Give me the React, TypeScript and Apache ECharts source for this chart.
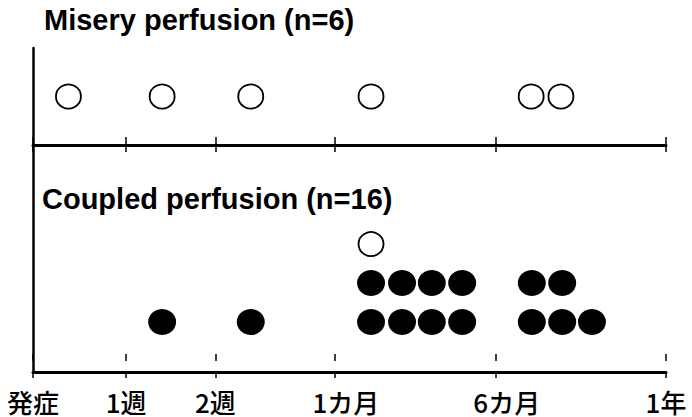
import React, { useEffect, useRef } from "react";
import * as echarts from "echarts";

// Axis units: 0 = onset, 100 = 1 year (non-linear time scale as drawn)
const tickLabels = ["発症", "1週", "2週", "1カ月", "6カ月", "1年"];
const tickPositions = [0, 14.7, 28.8, 47.7, 73.1, 100];

// Misery perfusion (n=6): open circles, one row
const miseryOpenX = [5.6, 20.4, 34.4, 53.4, 78.7, 83.4];

// Coupled perfusion (n=16)
const coupledOpenRow3X = [53.4];
const coupledFilledRow2X = [53.4, 58.3, 63.0, 67.8, 78.8, 83.6];
const coupledFilledRow1X = [20.4, 34.4, 53.4, 58.3, 63.0, 67.8, 78.8, 83.6, 88.3];

const titles = ["Misery perfusion (n=6)", "Coupled perfusion (n=16)"];

const BLACK = "#000";

function labelFor(v: number): string {
  let best = 0;
  for (let i = 0; i < tickPositions.length; i++) {
    if (Math.abs(tickPositions[i] - v) < Math.abs(tickPositions[best] - v)) best = i;
  }
  const t = tickLabels[best];
  return t.indexOf("カ") >= 0 ? "{m|" + t + "}" : "{n|" + t + "}";
}

export default function App() {
  const ref = useRef<HTMLDivElement>(null);
  useEffect(() => {
    document.body.style.margin = "0";
    if (!ref.current) return;
    const chart = echarts.init(ref.current, null, { renderer: "svg" });
    const baseX = {
      type: "value" as const,
      min: 0,
      max: 100,
      splitLine: { show: false },
    };
    const lblFont = { fontSize: 26, lineHeight: 26, fontWeight: 500, color: BLACK, fontFamily: "Noto Sans CJK JP" };
    const labelRich = {
      n: { ...lblFont },
      m: { ...lblFont, padding: [0, 0, 0, 22] },
    };
    const yBase = {
      type: "value" as const,
      axisLine: { show: true, onZero: false, lineStyle: { color: BLACK, width: 2.5 } },
      axisTick: { show: false },
      axisLabel: { show: false },
      splitLine: { show: false },
    };
    const titleStyle = { fontFamily: "Liberation Sans", fontWeight: "bold", fontSize: 29, color: BLACK };
    chart.setOption({
      animation: false,
      backgroundColor: "#fff",
      title: [
        { text: titles[0], left: 44, top: 5, padding: 0, textStyle: titleStyle },
        { text: titles[1], left: 42, top: 184, padding: 0, textStyle: titleStyle },
      ],
      grid: [
        { left: 33, top: 48, width: 633, height: 97 },
        { left: 33, top: 145, width: 633, height: 227 },
      ],
      xAxis: [
        {
          ...baseX,
          gridIndex: 0,
          position: "bottom",
          axisLine: { show: true, onZero: false, lineStyle: { color: BLACK, width: 3 } },
          axisTick: { show: true, length: 7, lineStyle: { color: BLACK, width: 1.5 }, customValues: tickPositions },
          axisLabel: { show: false },
        },
        {
          ...baseX,
          gridIndex: 0,
          position: "bottom",
          axisLine: { show: false },
          axisTick: { show: true, inside: true, length: 8, lineStyle: { color: BLACK, width: 1.5 }, customValues: tickPositions },
          axisLabel: { show: false },
        },
        {
          ...baseX,
          gridIndex: 1,
          position: "bottom",
          axisLine: { show: true, onZero: false, lineStyle: { color: BLACK, width: 3 } },
          axisTick: { show: true, length: 6, lineStyle: { color: BLACK, width: 1.5 }, customValues: tickPositions },
          axisLabel: {
            show: true,
            margin: 16,
            ...lblFont,
            customValues: tickPositions,
            formatter: (v: number) => labelFor(v),
            rich: labelRich,
          },
        },
        {
          ...baseX,
          gridIndex: 1,
          position: "bottom",
          axisLine: { show: false },
          axisTick: { show: true, inside: true, length: 7, lineStyle: { color: BLACK, width: 1.5 }, customValues: tickPositions },
          axisLabel: { show: false },
        },
      ],
      yAxis: [
        { ...yBase, gridIndex: 0, min: 0, max: 2 },
        { ...yBase, gridIndex: 1, min: -0.28, max: 5.54 },
      ],
      series: [
        {
          type: "scatter",
          xAxisIndex: 0,
          yAxisIndex: 0,
          symbol: "circle",
          symbolSize: [25, 24],
          itemStyle: { color: "#fff", borderColor: BLACK, borderWidth: 1.8, opacity: 1 },
          data: miseryOpenX.map((x) => [x, 1]),
        },
        {
          type: "scatter",
          xAxisIndex: 2,
          yAxisIndex: 1,
          symbol: "circle",
          symbolSize: [25, 24],
          itemStyle: { color: "#fff", borderColor: BLACK, borderWidth: 1.8, opacity: 1 },
          data: coupledOpenRow3X.map((x) => [x, 3]),
        },
        {
          type: "scatter",
          xAxisIndex: 2,
          yAxisIndex: 1,
          symbol: "circle",
          symbolSize: [28, 26],
          itemStyle: { color: BLACK, opacity: 1 },
          data: coupledFilledRow2X.map((x) => [x, 2]),
        },
        {
          type: "scatter",
          xAxisIndex: 2,
          yAxisIndex: 1,
          symbol: "circle",
          symbolSize: [28, 26],
          itemStyle: { color: BLACK, opacity: 1 },
          data: coupledFilledRow1X.map((x) => [x, 1]),
        },
      ],
    });
    return () => chart.dispose();
  }, []);
  return <div ref={ref} style={{ width: 692, height: 417 }} />;
}
